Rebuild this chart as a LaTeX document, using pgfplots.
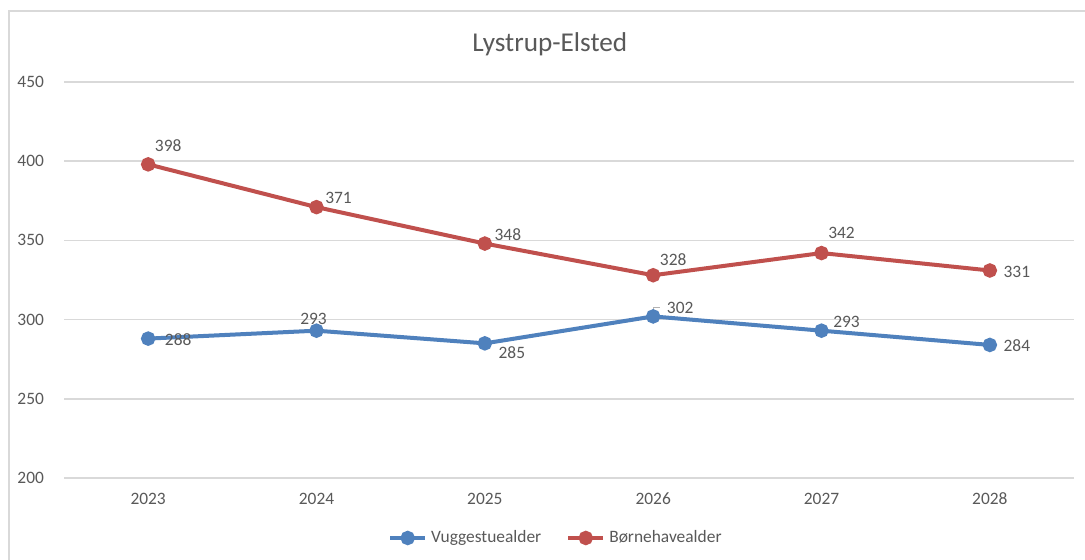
\documentclass[border=0pt]{standalone}
\usepackage{pgfplots}
\pgfplotsset{compat=1.18}
\usepackage{pgfplotstable}
\usepackage{fontspec}
\setmainfont{Carlito}
\definecolor{cblue}{HTML}{4F81BD}
\definecolor{cred}{HTML}{C0504D}
\definecolor{ctext}{HTML}{595959}
\definecolor{cgrid}{HTML}{D9D9D9}
\pgfplotstableread{
x y dx dy
0 288 15 -0.5
1 293 -1.5 6
2 285 13.5 -4.5
3 302 13.5 4.5
4 293 12.5 4.5
5 284 13.5 -0.5
}\vugge
\pgfplotstableread{
x y dx dy
0 398 10 9.5
1 371 11 4.5
2 348 11.5 4.5
3 328 10 8
4 342 10 10
5 331 13.5 -0.5
}\born
\begin{document}
\begin{tikzpicture}
\useasboundingbox (0,0) rectangle (542.5pt,280pt);
\fill[white] (0,0) rectangle (542.5pt,280pt);
\draw[cgrid, line width=0.75pt] (4.5pt,-5pt) -- (4.5pt,274.5pt) -- (560pt,274.5pt);
\begin{axis}[
  at={(32pt,41pt)}, anchor=south west,
  scale only axis, width=505pt, height=198pt,
  xmin=-0.5, xmax=5.5, ymin=200, ymax=450,
  xtick={0,1,2,3,4,5}, xticklabels={2023,2024,2025,2026,2027,2028},
  ytick={200,250,300,350,400,450},
  axis line style={draw=none},
  ymajorgrids, grid style={cgrid, line width=0.75pt},
  major tick length=0pt,
  tick label style={font=\fontsize{8.7}{10}\selectfont, text=ctext},
  /pgf/number format/assume math mode=true,
  yticklabel style={xshift=-6.5pt},
  xticklabel style={yshift=-4pt},
  every axis plot/.append style={line width=2pt, mark=*, mark size=2.6pt},
  nodes near coords,
  visualization depends on={\thisrow{dx} \as \dx},
  visualization depends on={\thisrow{dy} \as \dy},
  every node near coord/.style={anchor=center, xshift=\dx pt, yshift=\dy pt, font=\fontsize{8.7}{10}\selectfont, text=ctext, inner sep=0pt},
  legend style={at={(0.488,-0.1515)}, anchor=center, draw=none, fill=none, legend columns=2, font=\fontsize{8.7}{10}\selectfont, text=ctext, /tikz/every even column/.append style={column sep=10.5pt}},
  legend image code/.code={\draw[#1, mark=none] (0pt,0pt) -- (17.5pt,0pt); \draw[#1, only marks] plot coordinates {(8.75pt,0pt)};},
  clip=false,
]
\draw[gray!60, line width=0.5pt] (axis cs:0,288) -- ++(8pt,0pt);
\draw[gray!60, line width=0.5pt] (axis cs:3,302) -- ++(0pt,4.5pt) -- ++(3.5pt,0pt);
\addplot[cblue, mark options={fill=cblue}] table[x=x, y=y] {\vugge};
\addlegendentry{Vuggestuealder}
\addplot[cred, mark options={fill=cred}] table[x=x, y=y] {\born};
\addlegendentry{Børnehavealder}
\node[font=\fontsize{13.6}{16}\selectfont, text=ctext] at (rel axis cs:0.481,1) [yshift=19pt] {Lystrup-Elsted};
\end{axis}
\end{tikzpicture}
\end{document}
